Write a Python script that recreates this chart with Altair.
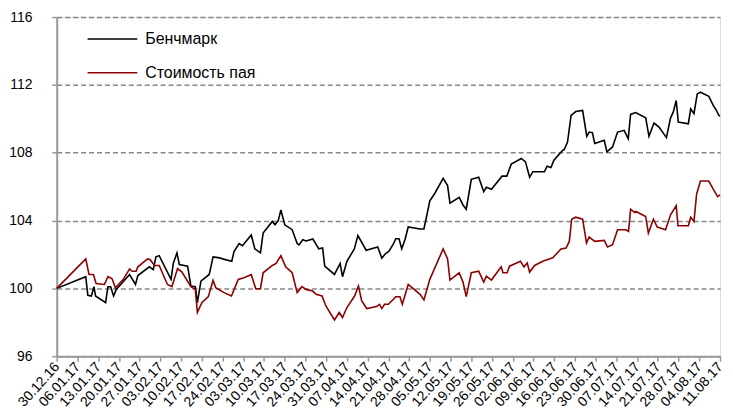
import altair as alt
import pandas as pd

# Day offsets from 30.12.2016 and values
bench_day = [0.0, 9.8, 10.5, 11.7, 12.6, 13.1, 16.5, 17.3, 18.2, 19.2, 20.1, 24.6, 26.6, 27.4,
             31.3, 32.6, 33.5, 34.6, 38.6, 39.4, 40.6, 41.4, 44.2, 45.3, 46.8, 47.5, 48.7,
             51.5, 52.8, 55.0, 56.0, 59.1, 59.9, 61.6, 62.7, 65.7, 66.9, 68.8, 69.7, 72.8,
             73.7, 74.8, 75.7, 77.0, 79.5, 81.2, 81.8, 83.1, 84.2, 86.5, 88.5, 89.8, 90.5,
             93.8, 95.7, 96.5, 98.0, 100.5, 101.7, 104.5, 108.4, 109.8, 110.9, 112.2, 113.7,
             114.5, 115.6, 116.5, 117.6, 118.7, 122.7, 124.0, 124.9, 126.0, 127.7, 130.5,
             132.0, 132.8, 135.9, 137.2, 138.3, 140.0, 142.5, 144.2, 145.1, 146.8, 150.4,
             152.0, 153.5, 156.9, 158.3, 159.7, 160.8, 164.7, 165.6, 166.9, 167.9, 170.9,
             171.4, 172.5, 173.7, 175.3, 177.6, 179.0, 179.8, 180.9, 181.7, 184.9, 185.8,
             187.7, 189.4, 191.6, 193.0, 193.8, 195.5, 198.9, 200.0, 201.7, 203.4, 205.9,
             207.3, 208.2, 209.2, 209.9, 213.3, 214.1, 215.2, 216.3, 217.4, 220.2, 221.7,
             222.8, 223.6, 224.0]
bench_val = [100.0, 100.69, 99.59, 99.55, 100.1, 99.55, 99.16, 100.1, 100.1, 99.55, 99.94, 100.82,
             100.23, 100.76, 101.27, 101.11, 101.86, 101.93, 100.53, 101.5, 102.09, 101.41, 101.31,
             100.14, 100.1, 99.16, 100.43, 100.82, 101.86, 101.8, 101.74, 101.6, 102.19, 102.64,
             102.52, 103.15, 102.33, 102.09, 103.26, 103.95, 103.75, 103.99, 104.63, 103.75,
             103.46, 102.64, 102.56, 102.87, 102.8, 102.91, 102.33, 102.38, 101.31, 100.82,
             101.47, 100.69, 101.6, 102.33, 103.11, 102.25, 102.44, 101.78, 102.03, 102.19,
             102.62, 102.93, 102.93, 102.33, 102.87, 103.62, 103.5, 103.5, 104.24, 105.16,
             105.61, 106.49, 106.06, 105.02, 105.37, 104.92, 104.67, 106.43, 106.55, 105.7,
             105.96, 105.84, 106.62, 106.62, 107.33, 107.66, 107.46, 106.55, 106.88, 106.88,
             107.21, 107.13, 107.56, 108.15, 108.19, 108.63, 110.2, 110.43, 110.49, 108.97,
             109.22, 109.18, 108.54, 108.73, 108.05, 108.34, 109.22, 109.32, 108.83, 110.26,
             110.37, 110.06, 108.97, 109.75, 109.51, 108.89, 110.06, 110.39, 111.08, 109.81,
             109.71, 110.59, 110.3, 111.47, 111.57, 111.33, 110.79, 110.49, 110.2, 110.16]

fund_day = [0.0, 9.8, 10.9, 12.4, 13.3, 16.1, 17.3, 18.7, 19.8, 22.5, 24.6, 25.5, 26.8, 27.4,
            30.7, 31.5, 33.0, 34.6, 37.4, 38.9, 40.8, 42.3, 45.3, 46.8, 47.5, 49.0, 51.2,
            52.8, 53.7, 56.5, 59.0, 61.3, 63.2, 65.7, 67.2, 68.8, 69.7, 72.8, 74.1, 75.7,
            77.3, 79.5, 81.2, 82.8, 84.2, 86.4, 87.6, 89.6, 90.9, 93.8, 95.4, 96.5, 98.0,
            100.6, 101.9, 103.0, 104.7, 108.0, 109.0, 109.8, 110.7, 112.0, 113.7, 114.5,
            115.9, 116.7, 118.7, 122.7, 124.0, 126.0, 130.5, 132.0, 132.8, 135.9, 137.2,
            138.3, 140.0, 142.5, 144.2, 145.1, 146.8, 150.1, 150.7, 152.1, 152.9, 156.6,
            157.8, 158.9, 159.7, 161.4, 164.1, 167.5, 170.3, 172.0, 173.1, 173.9, 175.3,
            177.6, 178.9, 179.8, 181.7, 184.9, 186.0, 187.7, 189.4, 192.2, 193.1, 193.8,
            195.2, 195.6, 198.9, 199.8, 201.5, 202.8, 205.6, 207.3, 209.2, 209.8, 213.3,
            214.1, 215.2, 216.1, 217.4, 220.2, 221.9, 223.2, 224.0]
fund_val = [100.0, 101.74, 100.82, 100.82, 100.29, 100.23, 100.69, 100.57, 100.04, 100.53, 101.15,
            101.01, 101.01, 101.27, 101.74, 101.7, 101.35, 101.35, 100.23, 100.1, 101.17, 100.96,
            100.1, 99.94, 98.58, 99.16, 99.51, 100.47, 100.04, 99.75, 99.55, 100.53, 100.63,
            100.82, 99.98, 99.98, 100.92, 101.35, 101.47, 101.93, 101.27, 100.92, 99.75, 100.1,
            99.94, 99.84, 99.65, 99.55, 98.96, 98.14, 98.58, 98.28, 98.87, 99.55, 100.14, 99.26,
            98.81, 98.93, 99.06, 98.81, 99.06, 99.06, 99.36, 99.51, 99.51, 99.06, 100.23, 99.65,
            99.32, 100.53, 102.33, 101.74, 100.49, 100.92, 100.37, 99.51, 100.92, 101.01, 100.37,
            100.72, 100.49, 101.27, 100.92, 100.92, 101.31, 101.6, 101.27, 101.5, 100.96, 101.35,
            101.6, 101.8, 102.33, 102.38, 102.77, 104.08, 104.2, 104.08, 102.68, 103.03, 102.77,
            102.83, 102.44, 102.58, 103.46, 103.46, 103.36, 104.67, 104.47, 104.53, 104.24,
            103.26, 104.08, 103.62, 103.46, 104.34, 104.88, 103.69, 103.69, 104.2, 103.95,
            105.57, 106.33, 106.33, 105.8, 105.41, 105.51]

series_names = ["Бенчмарк", "Стоимость пая"]
series_colors = ["#000000", "#8B0000"]
week_ticks = list(range(0, 225, 7))
y_ticks = [96, 100, 104, 108, 112, 116]

df = pd.concat([
    pd.DataFrame({"day": bench_day, "value": bench_val, "series": series_names[0], "ord": 0}),
    pd.DataFrame({"day": fund_day, "value": fund_val, "series": series_names[1], "ord": 1}),
])

chart = alt.Chart(df).mark_line(strokeWidth=1.6).encode(
    x=alt.X("day:Q",
            scale=alt.Scale(domain=[0, 224], nice=False, zero=False),
            axis=alt.Axis(values=week_ticks, title=None, grid=False,
                          labelExpr="utcFormat(utc(2016,11,30) + datum.value*86400000, '%d.%m.%y')",
                          labelAngle=-48, labelAlign="right", labelBaseline="middle",
                          labelFontSize=14, labelPadding=3,
                          labelOverlap=False, labelFlush=False,
                          domainColor="#999999", domainWidth=2,
                          tickColor="#999999", tickWidth=1.5, tickSize=5)),
    y=alt.Y("value:Q",
            scale=alt.Scale(domain=[96, 116], nice=False, zero=False),
            axis=alt.Axis(values=y_ticks, title=None, grid=True,
                          gridColor="#868686", gridDash=[5, 3], gridWidth=1.5,
                          labelFontSize=14, labelPadding=20,
                          domainColor="#999999", domainWidth=2,
                          tickColor="#999999", tickWidth=1.5, tickSize=5)),
    color=alt.Color("series:N",
                    scale=alt.Scale(domain=series_names, range=series_colors),
                    legend=alt.Legend(title=None, orient="none", legendX=30, legendY=-4,
                                      symbolType="stroke", symbolSize=2500,
                                      symbolStrokeWidth=1.6, labelFontSize=16,
                                      labelOffset=7, rowPadding=0)),
    order="ord:Q",
).properties(
    width=667, height=341,
    autosize=alt.AutoSizeParams(type="none"),
    padding={"left": 49, "top": 8, "right": 5, "bottom": 60},
).configure_view(stroke=None).configure(
    font="Liberation Sans"
).configure_axis(labelColor="#000000", labelFont="Liberation Sans")

chart.save("out.html", embed_options={"renderer": "svg", "actions": False})
